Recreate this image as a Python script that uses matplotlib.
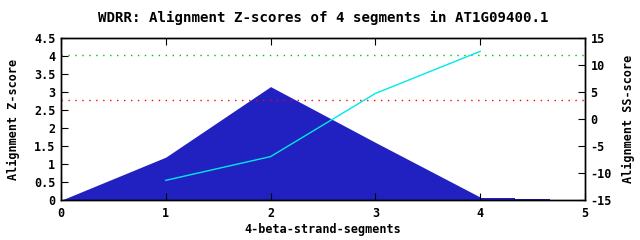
import matplotlib
matplotlib.use("Agg")
import matplotlib.pyplot as plt

# segment positions and scores
seg_x = [0, 1, 2, 3, 4]
z_scores = [0, 1.2, 3.16, 1.61, 0.09]
tail_x = [4, 4.33, 4.67]
tail_z = [0.064, 0.036, 0.036]

ss_x = [1, 2, 3, 4]
ss_scores = [-11.3, -6.9, 4.8, 12.6]

green_level = 11.9
red_level = 3.5

left_ticks = [0, 0.5, 1, 1.5, 2, 2.5, 3, 3.5, 4, 4.5]
left_labels = ["0", "0.5", "1", "1.5", "2", "2.5", "3", "3.5", "4", "4.5"]
right_ticks = [-15, -10, -5, 0, 5, 10, 15]
x_ticks = [0, 1, 2, 3, 4, 5]

plt.rcParams['font.family'] = ['DejaVu Sans Mono']
plt.rcParams['font.weight'] = 'bold'
plt.rcParams['axes.titleweight'] = 'bold'
plt.rcParams['axes.labelweight'] = 'bold'
plt.rcParams['font.size'] = 8.5

fig = plt.figure(figsize=(6.4, 2.4), dpi=100)
ax = fig.add_axes([0.0953, 0.1654, 0.8187, 0.6746])
ax2 = ax.twinx()

fill_col = "#2121c1"
ax.fill_between(seg_x, z_scores, 0, color=fill_col, linewidth=0)
ax.fill_between(tail_x, tail_z, 0, step="post", color=fill_col, linewidth=0)

ax2.axhline(green_level, color="#00c000", linestyle=(0, (1, 4)), linewidth=1)
ax2.axhline(red_level, color="#ff0000", linestyle=(0, (1, 4)), linewidth=1)
ax2.plot(ss_x, ss_scores, color="#00e8e8", linewidth=1)

ax.set_xlim(0, 5)
ax.set_ylim(0, 4.5)
ax2.set_ylim(-15, 15)

ax.set_xticks(x_ticks)
ax.set_xticklabels([str(t) for t in x_ticks])
ax.set_yticks(left_ticks)
ax.set_yticklabels(left_labels)
ax2.set_yticks(right_ticks)
ax2.set_yticklabels([str(t) for t in right_ticks])

ax.tick_params(axis="x", direction="in", top=True, length=5, pad=5)
ax.tick_params(axis="y", direction="in", right=False, length=5, pad=4)
ax2.tick_params(axis="y", direction="in", length=5, pad=4)

for a in (ax, ax2):
    for s in a.spines.values():
        s.set_linewidth(1)
        s.set_color("black")

ax.set_xlabel("4-beta-strand-segments", labelpad=2)
ax.set_ylabel("Alignment Z-score", labelpad=10)
ax2.set_ylabel("Alignment SS-score", labelpad=7)
ax.set_title("WDRR: Alignment Z-scores of 4 segments in AT1G09400.1", pad=12)

fig.savefig("out.png", dpi=100)
